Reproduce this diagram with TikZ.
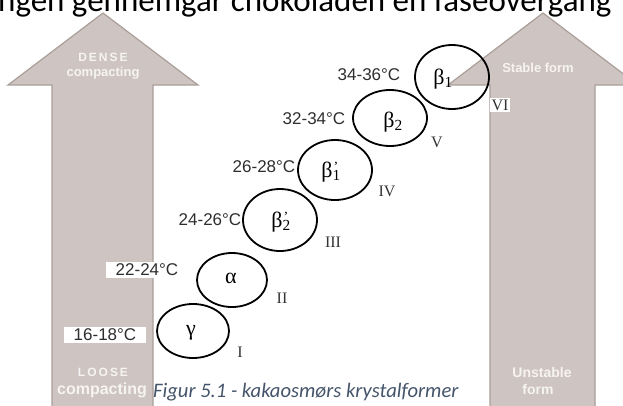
\documentclass[tikz,border=0pt]{standalone}
\usepackage{fontspec}
\usetikzlibrary{shapes.geometric}
\setmainfont{Liberation Serif}
\newfontfamily\arialf{Liberation Sans}
\newfontfamily\calf{Carlito}
\definecolor{arrowfill}{RGB}{206,196,193}
\definecolor{arrowedge}{RGB}{170,158,153}
\definecolor{captioncol}{RGB}{68,84,106}
\definecolor{whitetxt}{RGB}{246,244,242}
\newcommand\gsub[1]{β\textsubscript{#1}}
\newcommand\gpsub[1]{β\rlap{\raisebox{6.5pt}{\fontsize{14}{14}\selectfont\kern1pt'}}\textsubscript{#1}}
\begin{document}
\begin{tikzpicture}[x=1pt,y=-1pt,
  bigarrow/.style={fill=arrowfill,draw=arrowedge,line width=1.2pt,line join=miter},
  form/.style={ellipse,draw=black,line width=1.8pt,inner sep=0pt},
  temp/.style={font=\arialf\fontsize{17}{19}\selectfont,inner sep=1.5pt,text=black!82},
  tempbox/.style={temp,fill=white},
  roman/.style={font=\fontsize{16}{18}\selectfont,text=black!80,inner sep=1pt},
  greek/.style={font=\fontsize{22}{24}\selectfont},
  arrtxt/.style={font=\arialf\bfseries\fontsize{13}{14}\selectfont,text=whitetxt,inner sep=0pt}
]
\useasboundingbox (0,0) rectangle (623,405);
\clip (0,0) rectangle (623,405);
% top cut-off text
\node[anchor=base west,inner sep=0pt,font=\calf\fontsize{33}{36}\selectfont] (toptext) at (-2,11) {ngen gennemgår chokoladen en faseovergang};
% arrows
\draw[bigarrow] (52,412) -- (52,85) -- (8,85) -- (103,13) -- (198,85) -- (153,85) -- (153,412) -- cycle;
\draw[bigarrow] (490,412) -- (490,85) -- (448,85) -- (543,13) -- (638,85) -- (595,85) -- (595,412) -- cycle;
% arrow texts
\node[arrtxt,font=\arialf\bfseries\fontsize{12}{13}\selectfont] (dense) at (103,57) {D\,E\,N\,S\,E};
\node[arrtxt] (densec) at (103,73) {compacting};
\node[arrtxt,font=\arialf\bfseries\fontsize{12}{13}\selectfont] (loose) at (103,372) {L\,O\,O\,S\,E};
\node[arrtxt,font=\arialf\bfseries\fontsize{16}{17}\selectfont] (loosec) at (102,390) {compacting};
\node[arrtxt] (stable) at (538,68) {Stable form};
\node[arrtxt,font=\arialf\bfseries\fontsize{14}{15}\selectfont] (unstable) at (542,372) {Unstable};
\node[arrtxt,font=\arialf\bfseries\fontsize{14}{15}\selectfont] (unstablef) at (538,389) {form};
% crystal forms
\node[form,minimum width=72pt,minimum height=54pt] (g) at (193,331) {};
\node[form,minimum width=70pt,minimum height=54pt] (a) at (232,280) {};
\node[form,minimum width=74pt,minimum height=62pt] (b2p) at (280,220) {};
\node[form,minimum width=74pt,minimum height=60pt] (b1p) at (335,170) {};
\node[form,minimum width=74pt,minimum height=56pt] (b2) at (390,118) {};
\node[form,minimum width=74pt,minimum height=64pt] (b1) at (452,77) {};
\node[greek] (gt) at (191,333) {γ};
\node[greek] (at) at (231,278) {α};
\node[greek] (b2pt) at (281,222) {\gpsub{2}};
\node[greek] (b1pt) at (331,172) {\gpsub{1}};
\node[greek] (b2t) at (393,122) {\gsub{2}};
\node[greek] (b1t) at (443,79) {\gsub{1}};
% temperatures
\node[tempbox,minimum width=82pt] (t1) at (105,335) {16-18°C};
\node[tempbox,minimum width=82pt] (t2) at (147,270) {22-24°C};
\node[temp] (t3) at (210,220) {24-26°C};
\node[temp] (t4) at (264,167) {26-28°C};
\node[temp] (t5) at (314,119) {32-34°C};
\node[temp] (t6) at (369,75) {34-36°C};
% roman numerals
\node[roman] (r1) at (240,352) {I};
\node[roman] (r2) at (282,298) {II};
\node[roman] (r3) at (333,242) {III};
\node[roman] (r4) at (387,191) {IV};
\node[roman] (r5) at (437,142) {V};
\node[roman,fill=white,inner sep=2pt] (r6) at (500,105) {VI};
% caption
\node[anchor=base west,inner sep=0pt,text=captioncol,font=\calf\itshape\fontsize{20.6}{24}\selectfont] (cap) at (153,397) {Figur 5.1 - kakaosmørs krystalformer};
\end{tikzpicture}
\end{document}
